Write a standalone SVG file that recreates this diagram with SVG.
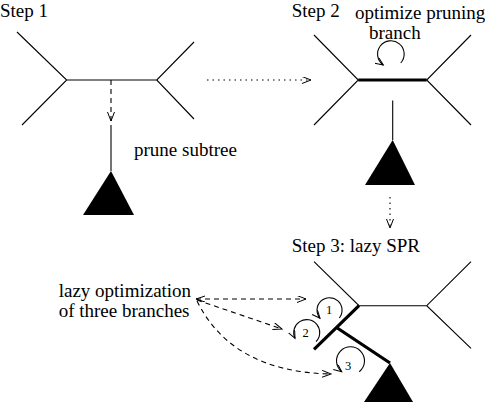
<svg xmlns="http://www.w3.org/2000/svg" width="485" height="410" viewBox="0 0 485 410">
<defs>
<marker id="ah" markerWidth="12" markerHeight="10" refX="9" refY="3.5" orient="auto" markerUnits="userSpaceOnUse">
<path d="M0,0 L9,3.5 L0,7" fill="none" stroke="#000" stroke-width="1"/>
</marker>
<marker id="ahs" markerWidth="12" markerHeight="10" refX="9" refY="3" orient="auto-start-reverse" markerUnits="userSpaceOnUse">
<path d="M0,0 L9,3 L0,6" fill="none" stroke="#000" stroke-width="1"/>
</marker>
<marker id="lh" markerWidth="10" markerHeight="10" refX="8" refY="3.5" orient="auto" markerUnits="userSpaceOnUse">
<path d="M0,0 L8,3.5 L0,7" fill="none" stroke="#000" stroke-width="1"/>
</marker>
</defs>
<style>
text{font-family:'Liberation Serif','DejaVu Serif',serif}
.t{font-size:19px;fill:#000}
.n{font-size:12.5px;fill:#000}
.thin{stroke:#000;stroke-width:1.1;fill:none}
.thick{stroke:#000;stroke-width:3.2;fill:none}
.dash{stroke:#000;stroke-width:1.1;fill:none;stroke-dasharray:5 4}
.dot{stroke:#000;stroke-width:1.1;fill:none;stroke-dasharray:1.5 4}
.loop{stroke:#000;stroke-width:1.1;fill:none}
.tri{fill:#000;stroke:none}
</style>

<g id="step1">
<text class="t" x="0" y="17">Step 1</text>
<path class="thin" d="M17,32 L66.7,80 L22,125 M66.7,80 L156.7,80 M194,42 L156.7,80 L194,119"/>
<path class="thin" d="M111,125 L111,171"/>
<polygon class="tri" points="111,171 83,215 134,215"/>
<text class="t" x="134" y="156">prune subtree</text>
</g>

<g id="step2">
<text class="t" x="291.7" y="17">Step 2</text>
<text class="t" x="355" y="18.5">optimize pruning</text>
<text class="t" x="369" y="38.5">branch</text>
<path class="thin" d="M314,35 L358.3,80 L314,125 M471,35 L426.7,80 L471,125"/>
<path class="thick" d="M358.3,80 L426.7,80"/>
<path class="thin" d="M392.7,100.5 L392.7,140"/>
<polygon class="tri" points="392.7,140 365,185 415,185"/>
<path class="loop" d="M400.7,63 A13.3,13.3 0 1 0 383.3,65" marker-end="url(#lh)"/>
</g>

<g id="step3">
<text class="t" x="291.7" y="252">Step 3: lazy SPR</text>
<path class="thin" d="M314,261.7 L359,305.7 L426.7,305.7 M471,261.7 L426.7,305.7 L471,348.3"/>
<path class="thick" d="M359,305.7 L314,349.3 M336.5,327.5 L390,363"/>
<polygon class="tri" points="390,363 364,402 413,402"/>
<path class="loop" d="M339.3,318 A12.5,12.5 0 1 0 320,318.3" marker-end="url(#lh)"/>
<text class="n" x="326" y="314">1</text>
<path class="loop" d="M316,341.7 A13,13 0 1 0 295,338.3" marker-end="url(#lh)"/>
<text class="n" x="302.5" y="337">2</text>
<path class="loop" d="M359.3,371.7 A14,14 0 1 0 341.7,371.7" marker-end="url(#lh)"/>
<text class="n" x="345" y="370">3</text>
</g>

<g id="note">
<text class="t" x="58.7" y="297">lazy optimization</text>
<text class="t" x="58.7" y="317">of three branches</text>
</g>

<g id="connectors">
<path class="dash" d="M111,80 L111,121" marker-end="url(#ah)"/>
<path class="dot" d="M207,80 L311,80" marker-end="url(#ah)"/>
<path class="dot" d="M390,197 L390,228" marker-end="url(#ah)"/>
<path class="dash" d="M196,299 L306,299" marker-start="url(#ahs)" marker-end="url(#ah)"/>
<path class="dash" d="M197,300 L282,329" marker-end="url(#ah)"/>
<path class="dash" d="M197,301 Q232,372 331,374" marker-end="url(#ah)"/>
</g>
</svg>
